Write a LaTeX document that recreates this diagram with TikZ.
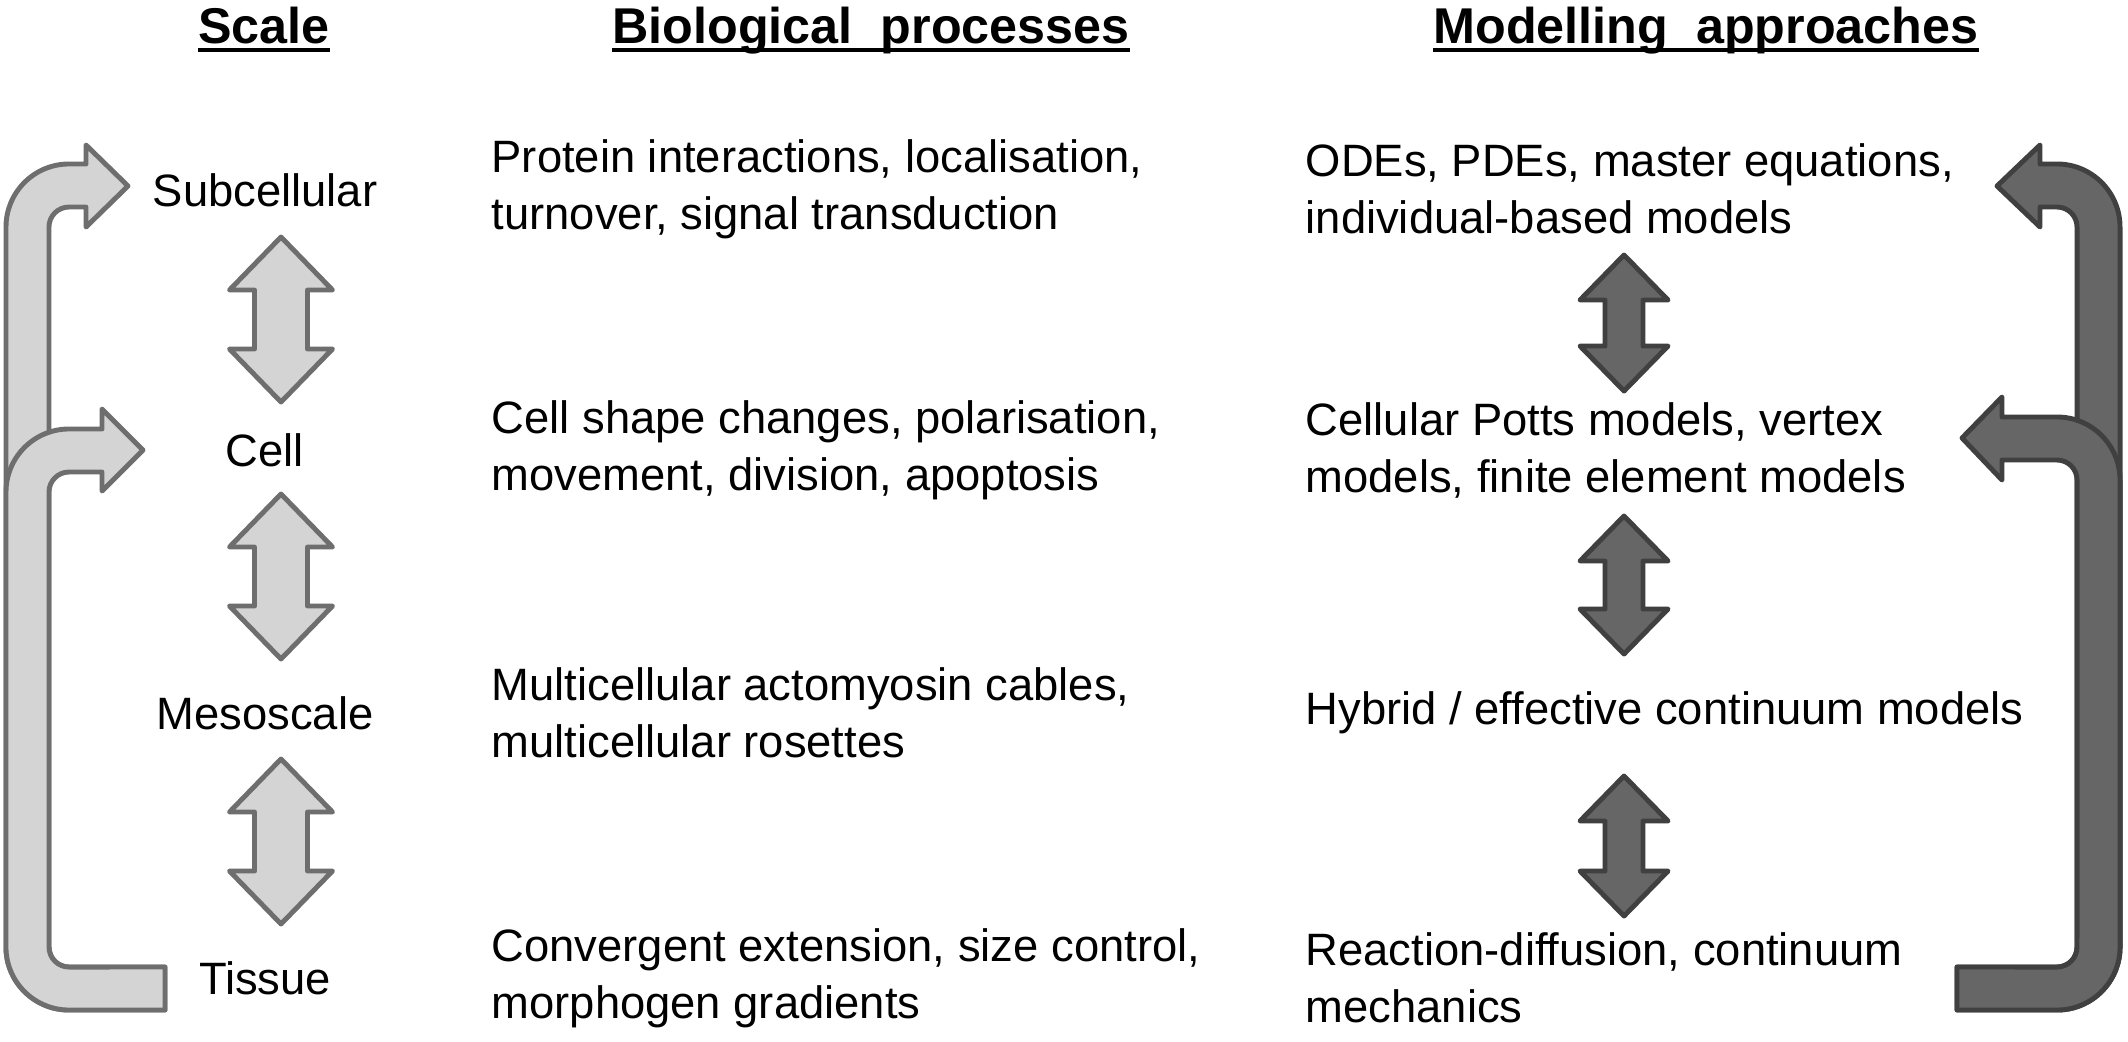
\documentclass[tikz,border=0pt]{standalone}
\usepackage{fontspec}
\setmainfont{Liberation Sans}
\definecolor{lightfill}{HTML}{D4D4D4}
\definecolor{lightline}{HTML}{6E6E6E}
\definecolor{darkfill}{HTML}{666666}
\definecolor{darkline}{HTML}{404040}
\newcommand{\mydblarrow}[7]{%
  \draw[#1] (#2,#3) -- (#2+#5,#3+#7) -- (#2+#6,#3+#7) -- (#2+#6,#4-#7) -- (#2+#5,#4-#7) -- (#2,#4)
    -- (#2-#5,#4-#7) -- (#2-#6,#4-#7) -- (#2-#6,#3+#7) -- (#2-#5,#3+#7) -- cycle;}
\begin{document}
\begin{tikzpicture}[x=0.01cm, y=-0.01cm,
  lightshape/.style={fill=lightfill, draw=lightline, line width=1.4pt, line join=round},
  darkshape/.style={fill=darkfill, draw=darkline, line width=1.4pt, line join=round},
  hdr/.style={inner sep=0pt, anchor=base, font=\fontsize{14.3}{17}\selectfont\bfseries},
  lvl/.style={inner sep=0pt, anchor=center, font=\fontsize{12.9}{16.2}\selectfont},
  desc/.style={inner sep=0pt, anchor=west, align=left, font=\fontsize{12.9}{16.2}\selectfont},
  uline/.style={line width=1.3pt}]
\useasboundingbox[fill=white] (0,0) rectangle (2128,1041);

% left curved arrows (light)
\draw[lightshape] (165,967) -- (165,1010) -- (69,1010) arc[start angle=270, end angle=180, radius=0.63cm]
  -- (6,227) arc[start angle=180, end angle=90, radius=0.63cm]
  -- (86,164) -- (86,145) -- (128,186) -- (86,227) -- (86,207) -- (69,207)
  arc[start angle=90, end angle=180, radius=0.2cm]
  -- (49,947) arc[start angle=180, end angle=270, radius=0.2cm] -- cycle;
\draw[lightshape] (165,967) -- (165,1010) -- (69,1010) arc[start angle=270, end angle=180, radius=0.63cm]
  -- (6,492) arc[start angle=180, end angle=90, radius=0.63cm]
  -- (102,429) -- (102,409) -- (143,450) -- (102,491) -- (102,472) -- (69,472)
  arc[start angle=90, end angle=180, radius=0.2cm]
  -- (49,947) arc[start angle=180, end angle=270, radius=0.2cm] -- cycle;

% right curved arrows (dark)
\draw[darkshape] (1957,967) -- (1957,1010) -- (2057,1010) arc[start angle=270, end angle=360, radius=0.63cm]
  -- (2120,227) arc[start angle=0, end angle=90, radius=0.63cm]
  -- (2040,164) -- (2040,145) -- (1997,186) -- (2040,227) -- (2040,207) -- (2057,207)
  arc[start angle=90, end angle=0, radius=0.2cm]
  -- (2077,947) arc[start angle=0, end angle=-90, radius=0.2cm] -- cycle;
\draw[darkshape] (1957,967) -- (1957,1010) -- (2057,1010) arc[start angle=270, end angle=360, radius=0.63cm]
  -- (2120,480) arc[start angle=0, end angle=90, radius=0.63cm]
  -- (2002,417) -- (2002,397) -- (1962,438) -- (2002,480) -- (2002,460) -- (2057,460)
  arc[start angle=90, end angle=0, radius=0.2cm]
  -- (2077,947) arc[start angle=0, end angle=-90, radius=0.2cm] -- cycle;

% double arrows
\mydblarrow{lightshape}{281}{237}{402}{51.5}{26.5}{53}
\mydblarrow{lightshape}{281}{494}{659}{51.5}{26.5}{53}
\mydblarrow{lightshape}{281}{759}{924}{51.5}{26.5}{53}
\mydblarrow{darkshape}{1624}{255}{391}{44}{19}{45}
\mydblarrow{darkshape}{1624}{516}{654}{44}{19}{45}
\mydblarrow{darkshape}{1624}{776}{916}{44}{19}{45}

% headers
\node[hdr] (hS) at (264,43) {Scale};
\node[hdr] (hB) at (871,43) {Biological~~processes};
\node[hdr] (hM) at (1706,43) {Modelling~~approaches};
\draw[uline] ([yshift=-0.07cm]hS.base west) -- ([yshift=-0.07cm]hS.base east);
\draw[uline] ([yshift=-0.07cm]hB.base west) -- ([yshift=-0.07cm]hB.base east);
\draw[uline] ([yshift=-0.07cm]hM.base west) -- ([yshift=-0.07cm]hM.base east);

% scale levels
\node[lvl] (sub) at (265,190) {Subcellular};
\node[lvl] (cell) at (265,450) {Cell};
\node[lvl] (meso) at (265,713) {Mesoscale};
\node[lvl] (tis) at (265,978) {Tissue};

% biological processes
\node[desc] (b1) at (491,189) {Protein interactions, localisation,\\turnover, signal transduction};
\node[desc] (b2) at (491,450) {Cell shape changes, polarisation,\\movement, division, apoptosis};
\node[desc] (b3) at (491,713) {Multicellular actomyosin cables,\\multicellular rosettes};
\node[desc] (b4) at (491,978) {Convergent extension, size control,\\morphogen gradients};

% modelling approaches
\node[desc] (m1) at (1305,189) {ODEs, PDEs, master equations,\\individual-based models};
\node[desc] (m2) at (1305,450) {Cellular Potts models, vertex\\models, finite element models};
\node[desc] (m3) at (1305,713) {Hybrid / effective continuum models};
\node[desc] (m4) at (1305,978) {Reaction-diffusion, continuum\\mechanics};
\end{tikzpicture}
\end{document}
